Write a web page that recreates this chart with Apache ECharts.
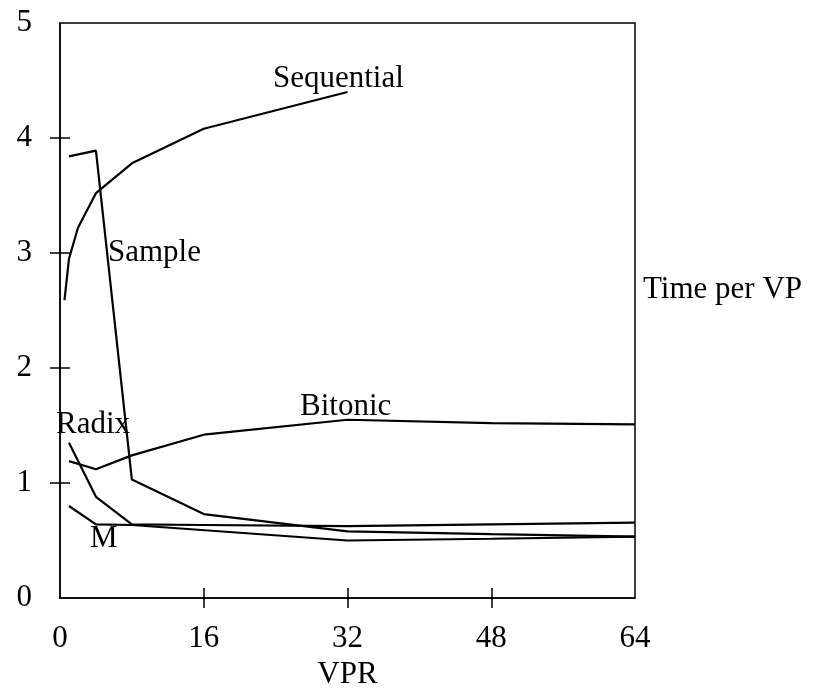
<!DOCTYPE html>
<html>
<head>
<meta charset="utf-8">
<script src="https://cdn.jsdelivr.net/npm/echarts@6/dist/echarts.min.js"></script>
<style>html,body{margin:0;padding:0;background:#fff}#c{width:824px;height:692px}</style>
</head>
<body>
<div id="c"></div>
<script>
var xTicks = [16, 32, 48];
var yTicks = [1, 2, 3, 4];
var sequential = [[0.5, 2.59], [1, 2.95], [2, 3.22], [4, 3.52], [8, 3.78], [16, 4.08], [32, 4.40]];
var sample = [[1, 3.84], [4, 3.89], [8, 1.03], [16, 0.73], [32, 0.58], [48, 0.555], [64, 0.533]];
var bitonic = [[1, 1.19], [4, 1.12], [8, 1.24], [16, 1.42], [32, 1.55], [48, 1.52], [64, 1.51]];
var radix = [[1, 1.35], [4, 0.88], [8, 0.64], [16, 0.635], [32, 0.625], [48, 0.64], [64, 0.655]];
var mSeries = [[1, 0.80], [4, 0.64], [8, 0.635], [32, 0.50], [48, 0.515], [64, 0.533]];

var FONT = 'Liberation Serif';
var FS = 31;
var chart = echarts.init(document.getElementById('c'), null, {renderer: 'canvas'});

function line(name, data) {
  return {
    name: name, type: 'line', data: data, symbol: 'none', smooth: false,
    lineStyle: {color: '#000', width: 2.2}, silent: true, animation: false
  };
}

function label(txt, x, y) {
  return {type: 'text', x: x, y: y, style: {text: txt, fontFamily: FONT, fontSize: FS, fill: '#000', verticalAlign: 'middle', align: 'left'}};
}

chart.setOption({
  animation: false,
  grid: {left: 60, right: 189, top: 23, bottom: 94, show: true, borderColor: '#000', borderWidth: 1.5,
         backgroundColor: 'transparent', containLabel: false, outerBoundsMode: 'none'},
  xAxis: [{
    type: 'value', min: 0, max: 64, interval: 16,
    name: 'VPR', nameLocation: 'middle', nameGap: 52,
    nameTextStyle: {fontFamily: FONT, fontSize: FS, color: '#000'},
    axisLine: {show: true, lineStyle: {color: '#000', width: 1.5}},
    axisTick: {show: true, inside: true, length: 10, customValues: xTicks, lineStyle: {color: '#000', width: 1.5}},
    axisLabel: {fontFamily: FONT, fontSize: FS, color: '#000', margin: 25},
    splitLine: {show: false}
  }, {
    type: 'value', min: 0, max: 64, interval: 16, position: 'bottom', gridIndex: 0,
    axisLine: {show: false},
    axisTick: {show: true, inside: false, length: 10, customValues: xTicks, lineStyle: {color: '#000', width: 1.5}},
    axisLabel: {show: false}, splitLine: {show: false}
  }],
  yAxis: [{
    type: 'value', min: 0, max: 5, interval: 1,
    axisLine: {show: true, lineStyle: {color: '#000', width: 1.5}},
    axisTick: {show: true, inside: true, length: 10, customValues: yTicks, lineStyle: {color: '#000', width: 1.5}},
    axisLabel: {fontFamily: FONT, fontSize: FS, color: '#000', margin: 28},
    splitLine: {show: false}
  }, {
    type: 'value', min: 0, max: 5, interval: 1, position: 'left',
    axisLine: {show: false},
    axisTick: {show: true, inside: false, length: 10, customValues: yTicks, lineStyle: {color: '#000', width: 1.5}},
    axisLabel: {show: false}, splitLine: {show: false}
  }],
  series: [
    line('Sequential', sequential),
    line('Sample', sample),
    line('Bitonic', bitonic),
    line('Radix', radix),
    line('M', mSeries)
  ],
  graphic: [
    label('Sequential', 273, 79),
    label('Sample', 108, 253),
    label('Bitonic', 300, 407),
    label('Radix', 56, 425),
    label('M', 90, 539),
    label('Time per VP', 643, 290)
  ]
});
</script>
</body>
</html>
